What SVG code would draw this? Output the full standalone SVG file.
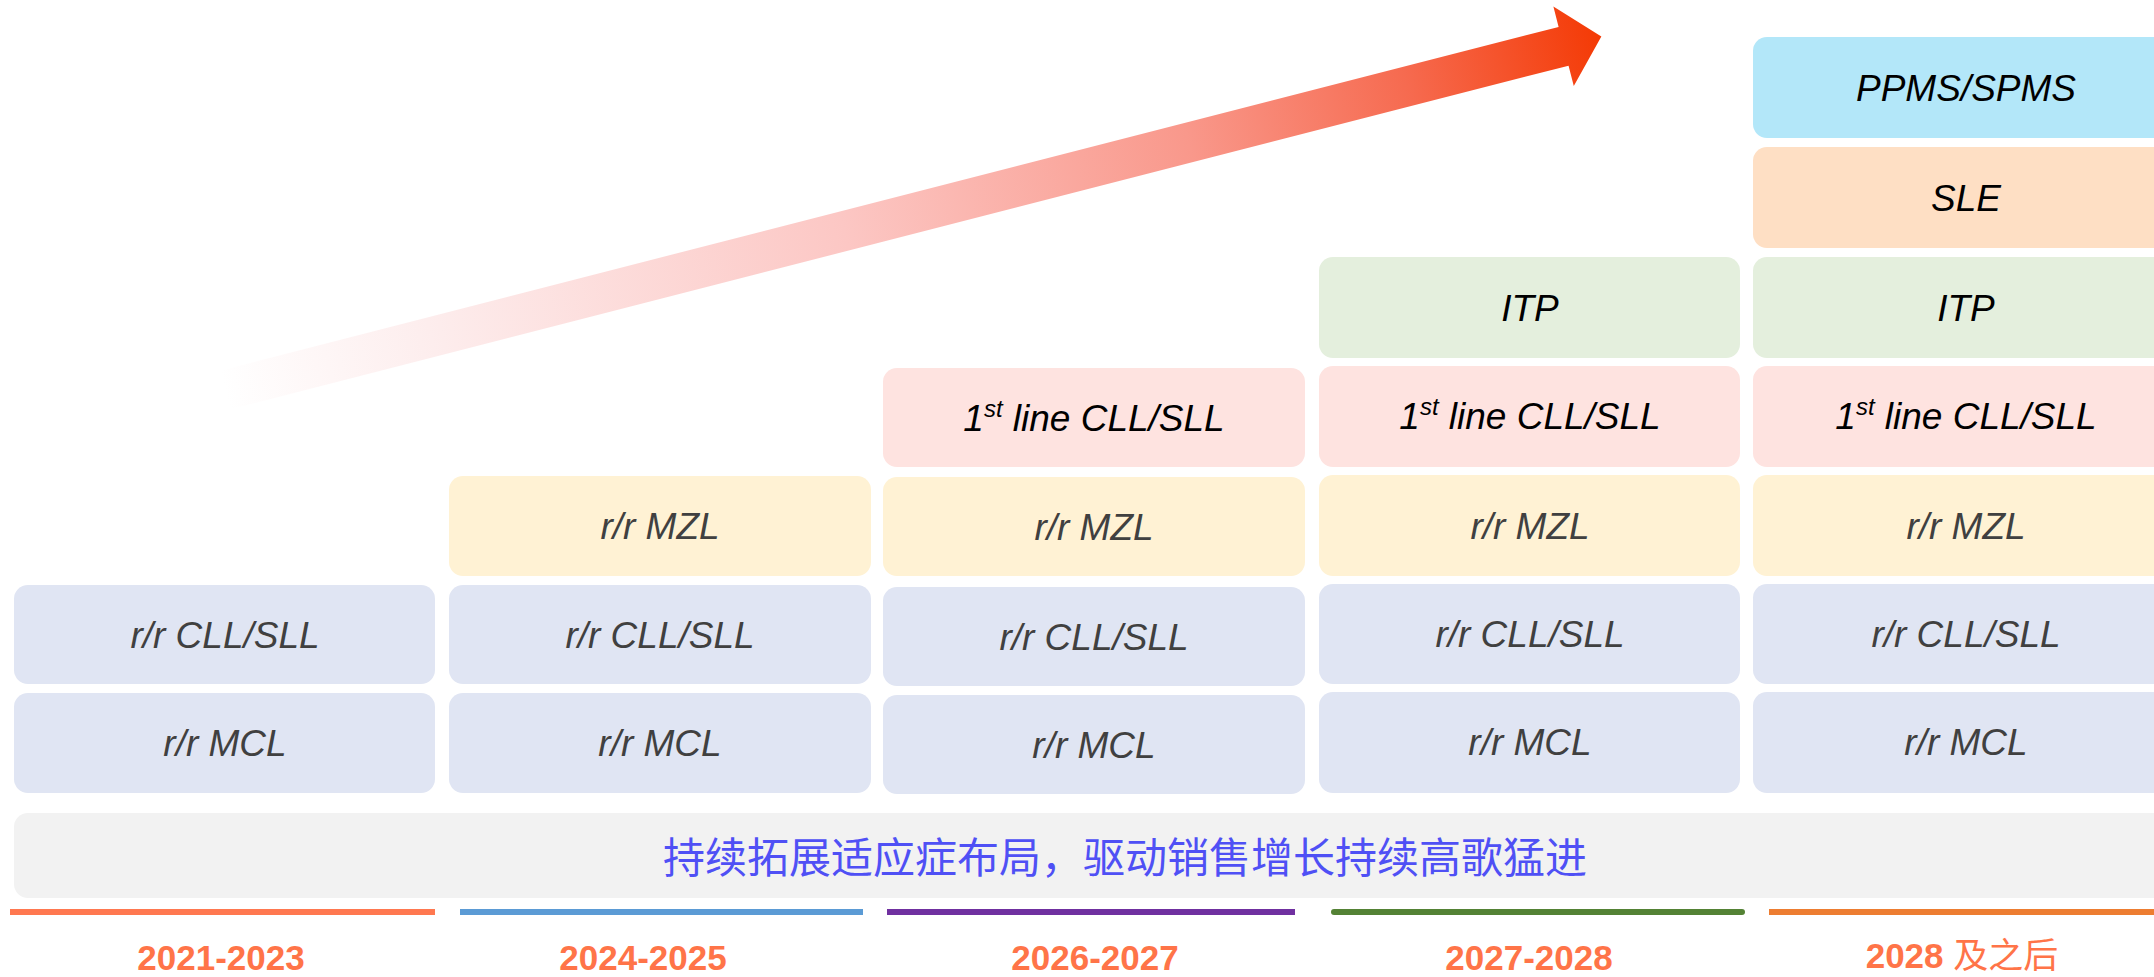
<svg xmlns="http://www.w3.org/2000/svg" width="2154" height="977" viewBox="0 0 2154 977">
<style>
.box{stroke:none}
.blue{fill:#E0E5F3}
.yel{fill:#FFF2D4}
.pink{fill:#FEE3E0}
.grn{fill:#E4EFDD}
.peach{fill:#FEDFC4}
.sky{fill:#B3E7F9}
.t{font-family:"Liberation Sans",Arial,sans-serif;font-style:italic;font-size:37px;text-anchor:middle}
.g{fill:#404040}
.k{fill:#000000}
.yr{font-family:"Liberation Sans",Arial,"Noto Sans CJK SC",sans-serif;font-weight:bold;font-size:35px;fill:#FF7448;text-anchor:middle}
.cjk{font-family:"Noto Sans CJK SC",sans-serif;font-weight:normal}
.ban{font-family:"Noto Sans CJK SC",sans-serif;font-size:42px;fill:#4F50F5;text-anchor:middle}
.sup{font-size:24px}
</style>
<defs>
<linearGradient id="arrowGrad" gradientUnits="userSpaceOnUse" x1="0" y1="0" x2="1421" y2="0">
<stop offset="0" stop-color="#FFFFFF"/>
<stop offset="0.15" stop-color="#FDEDED"/>
<stop offset="0.45" stop-color="#FCC7C4"/>
<stop offset="0.7" stop-color="#F9988B"/>
<stop offset="0.86" stop-color="#F66A4F"/>
<stop offset="1" stop-color="#F43A05"/>
</linearGradient>
</defs>
<rect width="2154" height="977" fill="#FFFFFF"/>

<g id="trend-arrow">
<polygon transform="translate(225,390) rotate(-14.4)" fill="url(#arrowGrad)" points="0,-20 1382,-20 1382,-41 1421,0 1382,41 1382,20 0,20"/>
</g>

<g id="col1">
<g id="c1-cll"><rect class="box blue" x="14" y="585" width="421" height="99" rx="14"/><text class="t g" x="225" y="648">r/r CLL/SLL</text></g>
<g id="c1-mcl"><rect class="box blue" x="14" y="693" width="421" height="100" rx="14"/><text class="t g" x="225" y="756">r/r MCL</text></g>
</g>

<g id="col2">
<g id="c2-mzl"><rect class="box yel" x="449" y="476" width="422" height="100" rx="14"/><text class="t g" x="660" y="539">r/r MZL</text></g>
<g id="c2-cll"><rect class="box blue" x="449" y="585" width="422" height="99" rx="14"/><text class="t g" x="660" y="648">r/r CLL/SLL</text></g>
<g id="c2-mcl"><rect class="box blue" x="449" y="693" width="422" height="100" rx="14"/><text class="t g" x="660" y="756">r/r MCL</text></g>
</g>

<g id="col3">
<g id="c3-1st"><rect class="box pink" x="883" y="368" width="422" height="99" rx="14"/><text class="t k" x="1094" y="431">1<tspan class="sup" dy="-14">st</tspan><tspan dy="14"> line CLL/SLL</tspan></text></g>
<g id="c3-mzl"><rect class="box yel" x="883" y="477" width="422" height="99" rx="14"/><text class="t g" x="1094" y="540">r/r MZL</text></g>
<g id="c3-cll"><rect class="box blue" x="883" y="587" width="422" height="99" rx="14"/><text class="t g" x="1094" y="650">r/r CLL/SLL</text></g>
<g id="c3-mcl"><rect class="box blue" x="883" y="695" width="422" height="99" rx="14"/><text class="t g" x="1094" y="758">r/r MCL</text></g>
</g>

<g id="col4">
<g id="c4-itp"><rect class="box grn" x="1319" y="257" width="421" height="101" rx="14"/><text class="t k" x="1530" y="321">ITP</text></g>
<g id="c4-1st"><rect class="box pink" x="1319" y="366" width="421" height="101" rx="14"/><text class="t k" x="1530" y="429">1<tspan class="sup" dy="-14">st</tspan><tspan dy="14"> line CLL/SLL</tspan></text></g>
<g id="c4-mzl"><rect class="box yel" x="1319" y="475" width="421" height="101" rx="14"/><text class="t g" x="1530" y="539">r/r MZL</text></g>
<g id="c4-cll"><rect class="box blue" x="1319" y="584" width="421" height="100" rx="14"/><text class="t g" x="1530" y="647">r/r CLL/SLL</text></g>
<g id="c4-mcl"><rect class="box blue" x="1319" y="692" width="421" height="101" rx="14"/><text class="t g" x="1530" y="755">r/r MCL</text></g>
</g>

<g id="col5">
<g id="c5-ppms"><rect class="box sky" x="1753" y="37" width="424" height="101" rx="14"/><text class="t k" x="1966" y="101">PPMS/SPMS</text></g>
<g id="c5-sle"><rect class="box peach" x="1753" y="147" width="424" height="101" rx="14"/><text class="t k" x="1966" y="211">SLE</text></g>
<g id="c5-itp"><rect class="box grn" x="1753" y="257" width="424" height="101" rx="14"/><text class="t k" x="1966" y="321">ITP</text></g>
<g id="c5-1st"><rect class="box pink" x="1753" y="366" width="424" height="101" rx="14"/><text class="t k" x="1966" y="429">1<tspan class="sup" dy="-14">st</tspan><tspan dy="14"> line CLL/SLL</tspan></text></g>
<g id="c5-mzl"><rect class="box yel" x="1753" y="475" width="424" height="101" rx="14"/><text class="t g" x="1966" y="539">r/r MZL</text></g>
<g id="c5-cll"><rect class="box blue" x="1753" y="584" width="424" height="100" rx="14"/><text class="t g" x="1966" y="647">r/r CLL/SLL</text></g>
<g id="c5-mcl"><rect class="box blue" x="1753" y="692" width="424" height="101" rx="14"/><text class="t g" x="1966" y="755">r/r MCL</text></g>
</g>

<g id="banner">
<rect x="14" y="813" width="2160" height="85" rx="14" fill="#F2F2F2"/>
<text class="ban" x="1125" y="873">持续拓展适应症布局，驱动销售增长持续高歌猛进</text>
</g>

<g id="timeline">
<line x1="10" y1="912" x2="435" y2="912" stroke="#FF7850" stroke-width="6"/>
<line x1="460" y1="912" x2="863" y2="912" stroke="#5B9BD5" stroke-width="6"/>
<line x1="887" y1="912" x2="1295" y2="912" stroke="#7030A0" stroke-width="6"/>
<line x1="1334" y1="912" x2="1742" y2="912" stroke="#548235" stroke-width="6" stroke-linecap="round"/>
<line x1="1769" y1="912" x2="2154" y2="912" stroke="#ED7D31" stroke-width="6"/>
<text class="yr" x="221" y="970">2021-2023</text>
<text class="yr" x="643" y="970">2024-2025</text>
<text class="yr" x="1095" y="970">2026-2027</text>
<text class="yr" x="1529" y="970">2027-2028</text>
<text class="yr" x="1962" y="968">2028 <tspan class="cjk">及之后</tspan></text>
</g>
</svg>
